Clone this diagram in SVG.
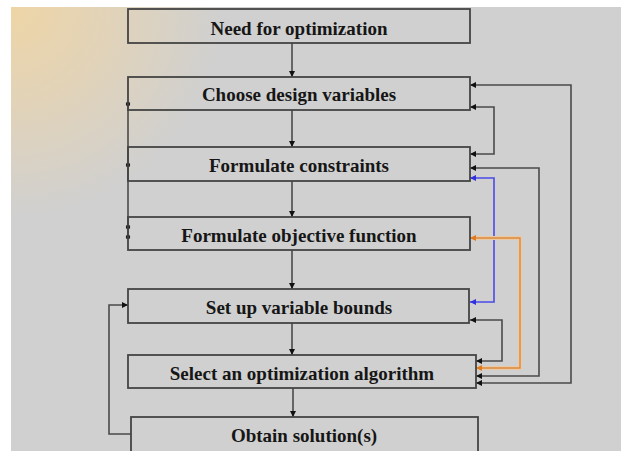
<svg xmlns="http://www.w3.org/2000/svg" width="621" height="451" viewBox="0 0 621 451">
  <defs>
    <radialGradient id="bg" gradientUnits="userSpaceOnUse" cx="11" cy="7" r="210">
      <stop offset="0" stop-color="#eed5a6"/>
      <stop offset="0.45" stop-color="#e2d3b8"/>
      <stop offset="1" stop-color="#d0d0d0"/>
    </radialGradient>
    <marker id="ak" viewBox="0 0 6 6" refX="6" refY="3" markerWidth="6" markerHeight="6" markerUnits="userSpaceOnUse" orient="auto-start-reverse">
      <path d="M0,0 L6,3 L0,6 z" fill="#111"/>
    </marker>
    <marker id="ab" viewBox="0 0 6 6" refX="6" refY="3" markerWidth="6" markerHeight="6" markerUnits="userSpaceOnUse" orient="auto-start-reverse">
      <path d="M0,0 L6,3 L0,6 z" fill="#3030e0"/>
    </marker>
    <marker id="ao" viewBox="0 0 6 6" refX="6" refY="3" markerWidth="6" markerHeight="6" markerUnits="userSpaceOnUse" orient="auto-start-reverse">
      <path d="M0,0 L6,3 L0,6 z" fill="#e07a20"/>
    </marker>
  </defs>
  <style>
    .box { fill: none; stroke: #444; stroke-width: 1.8; }
    .lbl { font-family: "Liberation Serif", "Times New Roman", serif; font-weight: bold; font-size: 19px; fill: #161616; text-anchor: middle; }
    .c { fill: none; stroke: #4a4a4a; stroke-width: 1.6; }
    .k { marker-start: url(#ak); marker-end: url(#ak); }
    .blue { fill: none; stroke: #4a4ae8; stroke-width: 1.6; marker-start: url(#ab); marker-end: url(#ab); }
    .orhalo { fill: none; stroke: #ecc9a2; stroke-width: 4; }
    .or { fill: none; stroke: #d98a3e; stroke-width: 1.4; marker-start: url(#ao); marker-end: url(#ao); }
    .dot { fill: #1a1a1a; }
  </style>
  <rect x="0" y="0" width="621" height="451" fill="#ffffff"/>
  <rect x="11" y="7" width="610" height="444" fill="url(#bg)"/>

  <g id="connectors">
    <path class="c" d="M292,43 V77" marker-end="url(#ak)"/>
    <path class="c" d="M292,110 V147" marker-end="url(#ak)"/>
    <path class="c" d="M292,181 V217" marker-end="url(#ak)"/>
    <path class="c" d="M292,250 V289" marker-end="url(#ak)"/>
    <path class="c" d="M292,323 V355" marker-end="url(#ak)"/>
    <path class="c" d="M293,388 V417" marker-end="url(#ak)"/>

    <path class="c" d="M128,104 V237"/>
    <circle class="dot" cx="128" cy="104" r="2.2"/>
    <circle class="dot" cx="128" cy="165" r="2.2"/>
    <circle class="dot" cx="128" cy="227" r="2.2"/>
    <circle class="dot" cx="128" cy="237" r="2.2"/>

    <path class="c" d="M131,434 H109 V305 H128" marker-end="url(#ak)"/>

    <path class="c k" d="M470,85 H571 V383 H476"/>
    <path class="c k" d="M470,107 H494 V154 H470"/>
    <path class="c k" d="M470,168 H539 V376 H476"/>
    <path class="blue" d="M470,178 H494 V302 H470"/>
    <path class="orhalo" d="M472,238 H520 V368 H478"/>
    <path class="or" d="M470,238 H520 V368 H476"/>
    <path class="c k" d="M470,320 H502 V361 H476"/>
  </g>

  <g id="n1"><rect class="box" x="128" y="9" width="342" height="34"/><text class="lbl" x="299" y="35">Need for optimization</text></g>
  <g id="n2"><rect class="box" x="128" y="77" width="342" height="33"/><text class="lbl" x="299" y="101">Choose design variables</text></g>
  <g id="n3"><rect class="box" x="128" y="147" width="342" height="34"/><text class="lbl" x="299" y="172">Formulate constraints</text></g>
  <g id="n4"><rect class="box" x="128" y="217" width="342" height="33"/><text class="lbl" x="299" y="242">Formulate objective function</text></g>
  <g id="n5"><rect class="box" x="128" y="289" width="341" height="34"/><text class="lbl" x="299" y="314">Set up variable bounds</text></g>
  <g id="n6"><rect class="box" x="128" y="355" width="348" height="33"/><text class="lbl" x="302" y="380">Select an optimization algorithm</text></g>
  <g id="n7"><rect class="box" x="131" y="417" width="347" height="40"/><text class="lbl" x="304" y="442">Obtain solution(s)</text></g>
</svg>
